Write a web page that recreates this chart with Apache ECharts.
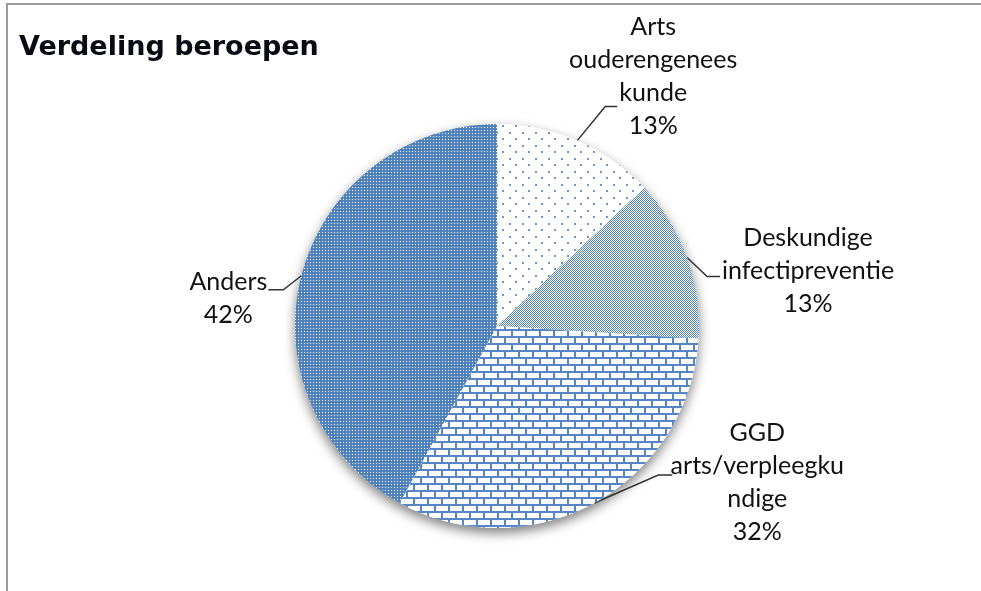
<!DOCTYPE html>
<html>
<head>
<meta charset="utf-8">
<script src="https://cdn.jsdelivr.net/npm/echarts@6/dist/echarts.min.js"></script>
<style>
html,body{margin:0;padding:0;background:#fff;}
#chart{width:981px;height:591px;}
</style>
</head>
<body>
<div id="chart"></div>
<script>
// ---- data ----
var title = 'Verdeling beroepen';
var categories = ['Arts\nouderengenees\nkunde', 'Deskundige\ninfectipreventie', 'GGD\narts/verpleegku\nndige', 'Anders'];
var values = [13, 13, 32, 42];

// ---- patterns ----
var BLUE = '#4F81BD';
function tile(w, h, draw) {
  var c = document.createElement('canvas');
  c.width = w; c.height = h;
  var g = c.getContext('2d');
  draw(g, w, h);
  return { image: c, repeat: 'repeat' };
}
var patDots = tile(13, 13, function (g, w, h) {
  g.fillStyle = '#fff'; g.fillRect(0, 0, w, h);
  g.fillStyle = '#6F95CC';
  g.fillRect(2, 2, 2, 2);
  g.fillRect(8, 8, 2, 2);
});
var patChecker = tile(2, 2, function (g, w, h) {
  g.fillStyle = '#fff'; g.fillRect(0, 0, w, h);
  g.fillStyle = BLUE;
  g.fillRect(0, 0, 1, 1);
  g.fillRect(1, 1, 1, 1);
});
var patBrick = tile(14, 14, function (g, w, h) {
  g.fillStyle = '#fff'; g.fillRect(0, 0, w, h);
  g.fillStyle = '#5585C4';
  g.fillRect(0, 0, 14, 2);
  g.fillRect(0, 7, 14, 2);
  g.fillRect(0, 0, 2, 7);
  g.fillRect(7, 7, 2, 7);
});
var patDense = tile(3, 3, function (g, w, h) {
  g.fillStyle = BLUE; g.fillRect(0, 0, w, h);
  g.fillStyle = '#fff';
  g.fillRect(1, 1, 1, 1);
});
var patterns = [patDots, patChecker, patBrick, patDense];

// leader-line bends/ends and label centres relative to the slice edge point
var guide = [
  { bend: [28, -34], end: [40, -34], lab: [76, -64] },
  { bend: [20, 19], end: [33, 19], lab: [121, 13] },
  { bend: [64, -28], end: [78, -28], lab: [163, -21] },
  { bend: [-18, 14], end: [-33, 14], lab: [-73, 23] }
];

var chart = echarts.init(document.getElementById('chart'), null, { renderer: 'canvas' });
var CENTER = [497, 326];
var RADIUS = 202;

chart.setOption({
  animation: false,
  backgroundColor: '#fff',
  title: {
    text: title,
    left: 14, top: 29,
    textStyle: { fontFamily: 'DejaVu Sans', fontWeight: 'bold', fontSize: 27, color: '#0a0a14' }
  },
  graphic: [{
    type: 'rect', silent: true,
    shape: { x: 7, y: 4, width: 1200, height: 1200 },
    style: { fill: 'none', stroke: '#9c9c9c', lineWidth: 2 }
  }],
  series: [
    {
      type: 'pie', silent: true, z: 1,
      center: CENTER, radius: RADIUS,
      label: { show: false }, labelLine: { show: false },
      itemStyle: { color: '#fff', shadowColor: 'rgba(0,0,0,0.5)', shadowBlur: 12, shadowOffsetY: 5 },
      data: [{ value: 1, name: '' }]
    },
    {
      type: 'pie', z: 2,
      center: CENTER, radius: RADIUS,
      startAngle: 90, clockwise: true,
      percentPrecision: 0,
      avoidLabelOverlap: false,
      itemStyle: { borderWidth: 0 },
      label: {
        show: true, position: 'outside',
        formatter: '{b}\n{d}%',
        fontFamily: 'Lato', fontSize: 25, lineHeight: 33, color: '#111'
      },
      labelLine: { show: true, length: 30, length2: 12, lineStyle: { color: '#333', width: 1.5 } },
      labelLayout: function (p) {
        var g = guide[p.dataIndex];
        var p0 = p.labelLinePoints[0];
        return {
          x: p0[0] + g.lab[0], y: p0[1] + g.lab[1],
          align: 'center', verticalAlign: 'middle',
          labelLinePoints: [
            [p0[0], p0[1]],
            [p0[0] + g.bend[0], p0[1] + g.bend[1]],
            [p0[0] + g.end[0], p0[1] + g.end[1]]
          ]
        };
      },
      data: categories.map(function (c, i) {
        return { name: c, value: values[i], itemStyle: { color: patterns[i] } };
      })
    }
  ]
});
</script>
</body>
</html>
